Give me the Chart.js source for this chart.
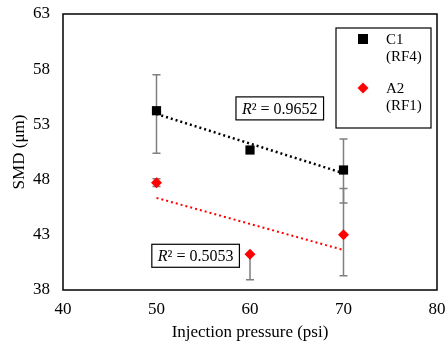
<!DOCTYPE html>
<html>
<head>
<meta charset="utf-8">
<script src="https://cdn.jsdelivr.net/npm/chart.js@4"></script>
<style>
  html, body { margin: 0; padding: 0; background: #fff; }
  #wrap { width: 448px; height: 347px; }
</style>
</head>
<body>
<div id="wrap"><canvas id="smdChart" width="448" height="347"></canvas></div>
<script>
// data
const pressure = [50, 60, 70];
const c1Smd = [54.24, 50.68, 48.87];
const c1ErrPlus = [3.25, 0, 2.8];
const c1ErrMinus = [3.85, 0, 3.0];
const a2Smd = [47.72, 41.23, 43.0];
const a2ErrPlus = [0.35, 0, 4.2];
const a2ErrMinus = [0.35, 2.3, 3.7];
const xTicks = [40, 50, 60, 70, 80];
const yTicks = [38, 43, 48, 53, 58, 63];
const r2Labels = ["0.9652", "0.5053"];
const r2Pos = [[58.5, 54.45], [49.5, 41.1]]; // left edge / centre, data units

const serif = "'Liberation Serif', 'Times New Roman', serif";

// least squares line through the points
function fitLine(xs, ys) {
  const n = xs.length;
  const mx = xs.reduce((a, b) => a + b, 0) / n;
  const my = ys.reduce((a, b) => a + b, 0) / n;
  let sxy = 0, sxx = 0;
  for (let i = 0; i < n; i++) {
    sxy += (xs[i] - mx) * (ys[i] - my);
    sxx += (xs[i] - mx) * (xs[i] - mx);
  }
  const m = sxy / sxx;
  const b = my - m * mx;
  const x0 = xs[0], x1 = xs[n - 1];
  return [{ x: x0, y: m * x0 + b }, { x: x1, y: m * x1 + b }];
}

const toPts = (ys) => pressure.map((x, i) => ({ x: x, y: ys[i] }));

// error bars under the markers
const errorBars = {
  id: "errorBars",
  beforeDatasetsDraw(chart) {
    const ctx = chart.ctx;
    const xs = chart.scales.x, ys = chart.scales.y;
    const sets = [[c1Smd, c1ErrPlus, c1ErrMinus], [a2Smd, a2ErrPlus, a2ErrMinus]];
    ctx.save();
    ctx.strokeStyle = "#7f7f7f";
    ctx.lineWidth = 1.5;
    sets.forEach(([vals, plus, minus]) => {
      pressure.forEach((p, i) => {
        const px = xs.getPixelForValue(p);
        const yc = ys.getPixelForValue(vals[i]);
        [[plus[i], 1], [minus[i], -1]].forEach(([e, dir]) => {
          if (!e) return;
          const ye = ys.getPixelForValue(vals[i] + dir * e);
          ctx.beginPath();
          ctx.moveTo(px, yc);
          ctx.lineTo(px, ye);
          ctx.moveTo(px - 4, ye);
          ctx.lineTo(px + 4, ye);
          ctx.stroke();
        });
      });
    });
    ctx.restore();
  }
};

// frame, R² boxes and the boxed legend
const extras = {
  id: "extras",
  afterDraw(chart) {
    const ctx = chart.ctx;
    const a = chart.chartArea;
    const xs = chart.scales.x, ys = chart.scales.y;
    ctx.save();
    ctx.strokeStyle = "#000";
    ctx.lineWidth = 1.5;
    ctx.strokeRect(a.left, a.top, a.right - a.left, a.bottom - a.top);

    // R² boxes
    ctx.textBaseline = "middle";
    r2Labels.forEach((txt, i) => {
      const left = xs.getPixelForValue(r2Pos[i][0]);
      const cy = ys.getPixelForValue(r2Pos[i][1]);
      ctx.font = "italic 16px " + serif;
      const wR = ctx.measureText("R").width;
      ctx.font = "16px " + serif;
      const rest = "\u00b2 = " + txt;
      const wRest = ctx.measureText(rest).width;
      const w = wR + wRest + 12;
      ctx.fillStyle = "#fff";
      ctx.fillRect(left, cy - 11.5, w, 23);
      ctx.lineWidth = 1.2;
      ctx.strokeRect(left, cy - 11.5, w, 23);
      ctx.fillStyle = "#000";
      ctx.font = "italic 16px " + serif;
      ctx.fillText("R", left + 6, cy + 1);
      ctx.font = "16px " + serif;
      ctx.fillText(rest, left + 6 + wR, cy + 1);
    });

    // legend
    const lx = 336, ly = 28, lw = 95, lh = 100;
    ctx.lineWidth = 1.2;
    ctx.strokeRect(lx, ly, lw, lh);
    ctx.font = "15px " + serif;
    ctx.textAlign = "left";
    ctx.fillStyle = "#000";
    ctx.fillRect(363 - 5, 39 - 5, 10, 10);
    ctx.fillText("C1", 386, 40);
    ctx.fillText("(RF4)", 386, 57);
    ctx.fillStyle = "#ff0000";
    ctx.beginPath();
    ctx.moveTo(363, 82.5);
    ctx.lineTo(368.5, 88);
    ctx.lineTo(363, 93.5);
    ctx.lineTo(357.5, 88);
    ctx.closePath();
    ctx.fill();
    ctx.fillStyle = "#000";
    ctx.fillText("A2", 386, 89);
    ctx.fillText("(RF1)", 386, 106);
    ctx.restore();
  }
};

new Chart(document.getElementById("smdChart").getContext("2d"), {
  type: "scatter",
  data: {
    datasets: [
      {
        label: "C1 trend",
        type: "line",
        data: fitLine(pressure, c1Smd),
        borderColor: "#000",
        borderWidth: 2.5,
        borderDash: [2, 3],
        pointRadius: 0,
        fill: false
      },
      {
        label: "A2 trend",
        type: "line",
        data: fitLine(pressure, a2Smd),
        borderColor: "#ff0000",
        borderWidth: 2,
        borderDash: [2, 3],
        pointRadius: 0,
        fill: false
      },
      {
        label: "C1 (RF4)",
        data: toPts(c1Smd),
        pointStyle: "rect",
        pointRadius: 6.5,
        backgroundColor: "#000",
        borderColor: "#000",
        borderWidth: 0
      },
      {
        label: "A2 (RF1)",
        data: toPts(a2Smd),
        pointStyle: "rectRot",
        pointRadius: 5.5,
        backgroundColor: "#ff0000",
        borderColor: "#ff0000",
        borderWidth: 0
      }
    ]
  },
  options: {
    responsive: false,
    animation: false,
    layout: { padding: { top: 14, right: 11, left: 0, bottom: 0 } },
    plugins: {
      legend: { display: false },
      tooltip: { enabled: false }
    },
    scales: {
      x: {
        type: "linear",
        min: 40,
        max: 80,
        afterBuildTicks: (s) => { s.ticks = xTicks.map((v) => ({ value: v })); },
        grid: { display: false, drawTicks: false },
        border: { display: false },
        ticks: { color: "#000", font: { family: serif, size: 17 }, padding: 9 },
        title: {
          display: true,
          text: "Injection pressure (psi)",
          color: "#000",
          font: { family: serif, size: 17 },
          padding: { top: 5 }
        },
        afterFit: (s) => { s.height = 57; s.paddingLeft = 0; s.paddingRight = 0; }
      },
      y: {
        type: "linear",
        min: 38,
        max: 63,
        afterBuildTicks: (s) => { s.ticks = yTicks.map((v) => ({ value: v })); },
        grid: { display: false, drawTicks: false },
        border: { display: false },
        ticks: { color: "#000", font: { family: serif, size: 17 }, padding: 13 },
        title: {
          display: true,
          text: "SMD (\u03bcm)",
          color: "#000",
          font: { family: serif, size: 17 },
          padding: { top: 9, bottom: 0 }
        },
        afterFit: (s) => { s.width = 63; s.paddingTop = 0; s.paddingBottom = 0; }
      }
    }
  },
  plugins: [errorBars, extras]
});
</script>
</body>
</html>
